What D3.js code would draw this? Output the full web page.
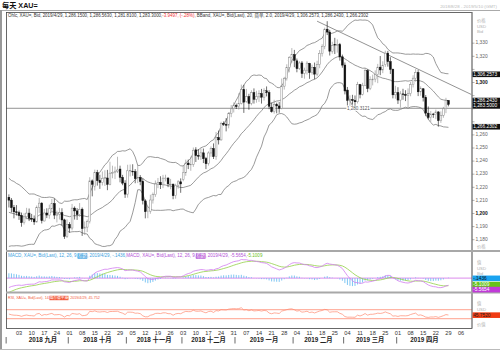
<!DOCTYPE html>
<html>
<head>
<meta charset="utf-8">
<script src="https://cdn.jsdelivr.net/npm/d3@7"></script>
<style>
body { margin: 0; background: #fff; }
svg { display: block; font-family: "Liberation Sans", "Noto Sans CJK SC", sans-serif; }
</style>
</head>
<body>
<svg id="chart" width="500" height="352"></svg>
<script>
// closes before the first visible bar (Jun 1 - Aug 27 2018), only used to warm up the indicators
let warmupCloses = [
    1294.5, 1292.0, 1294.6, 1297.4, 1298.7, 1297.8, 1299.0, 1294.0, 1298.9, 1302.6, 1278.6,
    1278.3, 1276.2, 1269.0, 1268.0, 1270.4, 1265.9, 1257.6, 1253.6, 1248.6, 1251.5,
    1241.6, 1253.1, 1252.4, 1256.8, 1255.0, 1258.6, 1254.9, 1245.4, 1246.3, 1241.3, 1240.8,
    1227.3, 1224.2, 1223.4, 1230.6, 1224.1, 1225.4, 1231.1, 1222.9, 1223.1, 1221.9, 1224.0,
    1217.6, 1209.3, 1213.9, 1208.7, 1211.2, 1212.8, 1213.2, 1211.6, 1193.9, 1194.1,
    1173.9, 1176.9, 1184.2, 1190.3, 1196.3, 1194.9, 1186.9, 1205.7, 1212.6
]

// daily bars, 2018/8/28 - 2019/4/29 (weekdays)
let opens = [
    1212.4, 1210.2, 1204.5, 1201.3,
    1200.6, 1198.5, 1193.0, 1197.5, 1200.3, 1196.2, 1195.8, 1193.6, 1204.6, 1207.9, 1194.3, 1200.4, 1198.8, 1203.6, 1207.5, 1198.6, 1199.5, 1200.6, 1195.1, 1182.6,
    1191.6, 1188.9, 1204.1, 1202.0, 1199.2, 1203.3, 1188.5, 1189.6, 1193.8, 1224.9, 1220.8, 1231.2, 1225.1, 1223.6, 1226.9, 1227.1, 1222.3, 1230.8, 1231.2, 1232.3, 1233.9, 1227.6, 1223.2,
    1214.8, 1232.6, 1232.2, 1231.9, 1226.6, 1227.4, 1224.5, 1209.6, 1201.4, 1201.8, 1210.3, 1214.4, 1222.2, 1223.8, 1222.0, 1227.0, 1227.0, 1222.4, 1222.4, 1213.6, 1221.5, 1224.2,
    1226.0, 1231.1, 1238.5, 1237.2, 1237.6, 1248.6, 1244.2, 1243.8, 1246.3, 1241.8, 1238.2, 1246.2, 1249.5, 1243.5, 1257.9, 1256.2, 1268.8, 1268.0, 1267.4, 1276.3, 1280.2,
    1282.5, 1281.6, 1284.1, 1294.6, 1285.6, 1289.2, 1284.1, 1292.2, 1287.2, 1289.0, 1291.5, 1288.8, 1293.7, 1292.3, 1281.2, 1277.8, 1283.2, 1282.1, 1280.3, 1297.2, 1302.9, 1311.5, 1319.0,
    1321.2, 1316.5, 1310.6, 1314.9, 1306.9, 1309.4, 1314.5, 1307.6, 1311.6, 1306.4, 1313.8, 1322.1, 1327.6, 1340.7, 1338.5, 1323.9, 1329.0, 1328.6, 1328.9, 1319.6,
    1313.3, 1294.2, 1286.4, 1286.9, 1286.2, 1285.3, 1298.4, 1291.0, 1297.8, 1309.0, 1295.4, 1302.0, 1302.6, 1306.1, 1311.7, 1309.6, 1313.6, 1322.4, 1315.9, 1310.1, 1290.6,
    1292.3, 1286.6, 1291.3, 1290.9, 1290.2, 1291.5, 1298.3, 1303.3, 1307.6, 1292.9, 1295.2, 1288.6, 1276.6, 1273.3, 1275.9, 1275.4, 1277.5, 1271.0, 1275.0, 1279.9, 1286.15
]
let highs = [
    1214.6, 1211.8, 1206.5, 1206.4,
    1202.2, 1200.7, 1200.2, 1204.3, 1203.8, 1199.7, 1198.5, 1206.1, 1211.8, 1208.6, 1203.5, 1204.0, 1206.8, 1211.1, 1211.4, 1202.2, 1204.3, 1204.0, 1196.0, 1195.5,
    1193.4, 1207.3, 1205.4, 1204.1, 1208.0, 1204.6, 1193.9, 1195.4, 1227.7, 1226.0, 1233.5, 1233.3, 1229.6, 1232.1, 1233.0, 1233.3, 1239.5, 1236.5, 1235.8, 1243.3, 1236.5, 1229.5, 1225.4,
    1237.2, 1237.4, 1237.6, 1233.9, 1236.9, 1229.3, 1226.7, 1210.9, 1205.3, 1214.3, 1216.0, 1225.2, 1227.1, 1228.4, 1229.5, 1229.6, 1227.8, 1226.4, 1222.8, 1222.7, 1225.5, 1226.8,
    1236.4, 1241.1, 1241.2, 1243.4, 1250.4, 1250.6, 1249.2, 1249.8, 1249.6, 1243.2, 1247.4, 1251.2, 1253.5, 1262.2, 1263.3, 1270.0, 1270.3, 1272.8, 1277.4, 1282.8, 1284.8,
    1283.9, 1291.8, 1298.4, 1298.2, 1295.1, 1291.4, 1294.1, 1295.5, 1293.7, 1294.1, 1295.1, 1295.6, 1297.0, 1294.1, 1284.6, 1286.8, 1284.6, 1285.1, 1303.0, 1304.3, 1313.9, 1320.1, 1326.3,
    1324.9, 1318.3, 1316.2, 1316.4, 1311.3, 1316.3, 1315.0, 1313.6, 1315.2, 1316.6, 1324.8, 1329.2, 1341.9, 1346.8, 1340.2, 1331.1, 1334.1, 1332.9, 1330.2, 1321.3,
    1315.3, 1296.6, 1290.2, 1290.6, 1290.1, 1300.5, 1298.9, 1299.8, 1311.0, 1310.1, 1304.7, 1306.0, 1309.3, 1314.2, 1320.2, 1316.2, 1324.3, 1324.1, 1319.3, 1310.6, 1297.5,
    1296.4, 1293.4, 1295.2, 1294.1, 1295.5, 1300.5, 1305.5, 1310.2, 1309.5, 1297.1, 1295.7, 1290.4, 1281.7, 1278.2, 1276.8, 1279.3, 1278.2, 1277.9, 1281.4, 1288.3, 1286.56
]
let lows = [
    1204.6, 1200.8, 1196.3, 1198.5,
    1195.1, 1189.9, 1191.6, 1195.6, 1194.2, 1193.6, 1191.3, 1193.0, 1200.5, 1192.4, 1193.9, 1196.5, 1196.0, 1201.8, 1195.7, 1193.2, 1195.4, 1190.8, 1180.6, 1181.3,
    1185.4, 1187.1, 1195.4, 1195.1, 1197.4, 1182.9, 1183.6, 1185.8, 1192.4, 1213.1, 1217.5, 1221.3, 1218.8, 1221.4, 1221.0, 1217.8, 1221.5, 1226.9, 1226.3, 1230.9, 1223.8, 1221.6, 1211.9,
    1212.1, 1228.3, 1228.8, 1223.1, 1223.2, 1221.6, 1206.9, 1196.3, 1196.4, 1199.8, 1207.6, 1212.7, 1219.3, 1218.7, 1219.4, 1224.5, 1220.1, 1218.5, 1210.9, 1211.3, 1218.9, 1215.8,
    1224.6, 1228.8, 1233.9, 1232.6, 1235.6, 1239.3, 1241.1, 1240.9, 1238.5, 1233.9, 1236.6, 1243.3, 1241.6, 1241.0, 1252.7, 1255.5, 1266.8, 1262.7, 1265.0, 1273.5, 1277.1,
    1279.8, 1279.3, 1283.2, 1276.8, 1284.5, 1279.2, 1282.6, 1283.9, 1284.6, 1285.2, 1283.9, 1286.2, 1289.4, 1279.6, 1277.0, 1276.2, 1276.5, 1276.9, 1279.5, 1294.6, 1301.5, 1307.8, 1315.2,
    1311.7, 1307.8, 1309.6, 1303.5, 1302.9, 1306.1, 1302.8, 1306.0, 1302.5, 1304.7, 1310.9, 1319.8, 1325.4, 1336.2, 1320.6, 1322.0, 1321.7, 1322.8, 1316.7, 1311.3,
    1290.9, 1282.4, 1281.7, 1283.2, 1280.8, 1284.0, 1287.9, 1290.1, 1297.2, 1292.6, 1294.2, 1297.8, 1300.2, 1299.5, 1305.6, 1307.1, 1311.9, 1312.1, 1306.5, 1287.9, 1287.6,
    1283.6, 1280.8, 1286.8, 1285.8, 1281.3, 1289.5, 1296.2, 1300.6, 1289.6, 1289.9, 1285.5, 1274.3, 1271.9, 1270.1, 1273.0, 1272.0, 1266.3, 1269.2, 1273.1, 1276.6, 1281.81
]
let closes = [
    1210.2, 1204.5, 1201.3, 1200.8,
    1198.5, 1193.0, 1197.5, 1200.3, 1196.4, 1195.8, 1193.6, 1204.6, 1207.9, 1194.5, 1200.4, 1198.8, 1203.6, 1207.5, 1198.8, 1199.5, 1200.6, 1195.1, 1182.6, 1191.8,
    1188.9, 1204.1, 1202.0, 1199.2, 1203.1, 1188.5, 1189.6, 1193.8, 1224.9, 1222.3, 1231.2, 1225.1, 1223.6, 1226.9, 1227.4, 1222.3, 1230.8, 1231.2, 1232.3, 1233.2, 1227.6, 1223.2, 1214.8,
    1232.6, 1232.9, 1231.9, 1226.6, 1227.4, 1224.5, 1209.8, 1201.4, 1201.8, 1210.3, 1214.4, 1222.5, 1223.8, 1222.0, 1227.0, 1227.0, 1222.6, 1222.4, 1213.6, 1221.5, 1224.2, 1222.6,
    1231.1, 1238.5, 1237.2, 1237.6, 1248.3, 1244.2, 1243.8, 1246.3, 1241.8, 1238.0, 1246.2, 1249.5, 1243.5, 1257.9, 1256.2, 1268.8, 1268.0, 1267.4, 1276.3, 1279.9, 1282.5,
    1281.6, 1284.1, 1294.6, 1285.0, 1289.2, 1284.1, 1292.2, 1287.2, 1289.3, 1291.5, 1288.8, 1293.7, 1292.3, 1281.9, 1277.8, 1283.2, 1282.1, 1280.3, 1297.5, 1302.9, 1311.5, 1319.0, 1321.2,
    1316.9, 1310.6, 1314.9, 1306.9, 1309.4, 1314.8, 1307.6, 1311.6, 1306.4, 1313.8, 1322.3, 1327.6, 1340.7, 1338.5, 1323.9, 1328.3, 1328.6, 1328.9, 1319.6, 1313.3,
    1293.6, 1286.4, 1286.9, 1286.2, 1285.3, 1298.4, 1291.0, 1297.8, 1309.0, 1295.4, 1302.3, 1302.6, 1306.1, 1311.7, 1309.6, 1313.2, 1322.4, 1315.9, 1310.1, 1290.6, 1292.3,
    1286.6, 1291.3, 1290.9, 1290.2, 1291.8, 1298.3, 1303.3, 1307.6, 1292.9, 1295.4, 1288.6, 1276.6, 1273.3, 1275.9, 1275.4, 1277.5, 1271.0, 1275.0, 1279.9, 1286.2, 1283.3
]

let priceTicks = d3.range(1180, 1331, 10)
let majorTicks = [1200, 1300]
let monthNames = ["一月", "二月", "三月", "四月", "五月", "六月", "七月", "八月", "九月", "十月", "十一月", "十二月"]

// drawn objects on the price panel
let hLineValue = 1280.3121
let trendStart = {i: 122, v: 1346.8}
let trendEnd = {i: 183, v: 1290.9}

// the boxes on the right axis
let priceBoxes = [
    {v: 1306.2573, t: "1,306.2573"},
    {v: 1286.2430, t: "1,286.2430"},
    {v: 1283.5000, t: "1,283.5000"},
    {v: 1266.2302, t: "1,266.2302"}
]
let macdBoxes = [
    {v: -0.1436, t: "-.1436", fill: "#1aa3f0", color: "#111"},
    {v: -5.5654, t: "-5.5654", fill: "#c03ad8", color: "#fff"},
    {v: -5.1009, t: "-5.1009", fill: "#66c21a", color: "#fff"}
]
let rsiBox = {v: 45.752, t: "45.7520"}

let svg = d3.select("#chart")

let left = 6
let right = 472
let mainTop = 12
let mainBottom = 250
let macdTop = 252
let macdBottom = 292
let rsiTop = 293
let rsiBottom = 328

let calendar = d3.timeDay.range(new Date(2018, 7, 28), new Date(2019, 4, 11))
    .filter(d => d.getDay() != 0 && d.getDay() != 6)
let n = Math.min(closes.length, opens.length, highs.length, lows.length)

let x = d3.scaleLinear().domain([0, calendar.length - 1]).range([8.9, 471.2])
let step = x(1) - x(0)
let y = d3.scaleLinear().domain([1200, 1300]).range([213.5, 82.5])
let yMacd = d3.scaleLinear().domain([-11, 20]).range([292, 253])
let yRsi = d3.scaleLinear().domain([30, 70]).range([318.7, 309.7])

// ---- indicators
let all = warmupCloses.concat(closes.slice(0, n))
let off = warmupCloses.length

function ema(arr, p) {
    let a = 2 / (p + 1)
    let out = [arr[0]]
    for (let k = 1; k < arr.length; k++) out.push(a * arr[k] + (1 - a) * out[k - 1])
    return out
}

let bands = []
for (let i = 0; i < n; i++) {
    let w = all.slice(off + i - 19, off + i + 1)
    let m = d3.mean(w)
    let sd = Math.sqrt(d3.mean(w, v => (v - m) * (v - m)))
    bands.push({i: i, mid: m, up: m + 2 * sd, lo: m - 2 * sd})
}

let e12 = ema(all, 12)
let e26 = ema(all, 26)
let macdAll = all.map((v, k) => e12[k] - e26[k])
let sigAll = ema(macdAll, 9)
let macd = d3.range(n).map(i => ({i: i, m: macdAll[off + i], s: sigAll[off + i]}))

let rsiAll = []
let ag = 0, al = 0
for (let k = 1; k < all.length; k++) {
    let ch = all[k] - all[k - 1]
    let g = Math.max(ch, 0), l = Math.max(-ch, 0)
    if (k <= 14) {
        ag += g / 14
        al += l / 14
    } else {
        ag = (ag * 13 + g) / 14
        al = (al * 13 + l) / 14
    }
    rsiAll[k] = k >= 14 ? 100 - 100 / (1 + ag / al) : null
}
let rsi = d3.range(n).map(i => ({i: i, r: rsiAll[off + i]}))

// ---- outer decoration
svg.append("text").attr("x", 2).attr("y", 7.5)
    .attr("font-size", 7.2).attr("font-weight", "bold").attr("fill", "#111")
    .text("每天 XAU=")
svg.append("text").attr("x", 497).attr("y", 7.5).attr("text-anchor", "end")
    .attr("font-size", 4.4).attr("fill", "#bbb")
    .text("2018/8/28 - 2019/5/10 (GMT)")
svg.append("line").attr("x1", 0).attr("x2", 500).attr("y1", 10.5).attr("y2", 10.5)
    .attr("stroke", "#aaa").attr("stroke-width", 1)
svg.append("line").attr("x1", 1).attr("x2", 1).attr("y1", 10).attr("y2", 350)
    .attr("stroke", "#999").attr("stroke-width", 2)
svg.append("line").attr("x1", 0).attr("x2", 500).attr("y1", 349.5).attr("y2", 349.5)
    .attr("stroke", "#bbb").attr("stroke-width", 1)

svg.append("defs").append("clipPath").attr("id", "clipMain")
    .append("rect").attr("x", left).attr("y", mainTop).attr("width", right - left).attr("height", mainBottom - mainTop)

// ---- price panel
let main = svg.append("g").attr("clip-path", "url(#clipMain)")

let bandLine = key => d3.line().x(d => x(d.i)).y(d => y(d[key]))(bands)
;["up", "mid", "lo"].forEach(k => {
    main.append("path").attr("d", bandLine(k))
        .attr("fill", "none").attr("stroke", "#6e6e6e").attr("stroke-width", 0.7)
})

main.append("line").attr("x1", left).attr("x2", right)
    .attr("y1", y(hLineValue)).attr("y2", y(hLineValue))
    .attr("stroke", "#777").attr("stroke-width", 0.8)

main.append("line")
    .attr("x1", x(trendStart.i)).attr("y1", y(trendStart.v))
    .attr("x2", x(trendEnd.i)).attr("y2", y(trendEnd.v))
    .attr("stroke", "#777").attr("stroke-width", 0.8)

let bars = main.selectAll("g.bar").data(d3.range(n)).enter().append("g").classed("bar", true)
bars.append("line")
    .attr("x1", i => x(i)).attr("x2", i => x(i))
    .attr("y1", i => y(highs[i])).attr("y2", i => y(lows[i]))
    .attr("stroke", i => closes[i] < opens[i] ? "#111" : "#8a8a8a")
    .attr("stroke-width", 0.6)
bars.append("rect")
    .attr("x", i => x(i) - 0.9).attr("width", 1.8)
    .attr("y", i => y(Math.max(opens[i], closes[i])))
    .attr("height", i => Math.max(0.6, Math.abs(y(opens[i]) - y(closes[i]))))
    .attr("fill", i => closes[i] < opens[i] ? "#111" : "#fff")
    .attr("stroke", i => closes[i] < opens[i] ? "#111" : "#8a8a8a")
    .attr("stroke-width", 0.5)

// label of the horizontal line
let hl = svg.append("text").attr("x", x(133) + 2).attr("y", y(hLineValue))
    .attr("dominant-baseline", "middle").attr("font-size", 4.6).attr("fill", "#555")
    .text("1,280.3121")
let hlw = hl.node().getComputedTextLength()
svg.insert("rect", () => hl.node()).attr("x", x(133) + 1.5).attr("y", y(hLineValue) - 2.5)
    .attr("width", hlw + 1).attr("height", 5).attr("fill", "#fff")

// ---- MACD panel
svg.append("line").attr("x1", left).attr("x2", right)
    .attr("y1", yMacd(0)).attr("y2", yMacd(0))
    .attr("stroke", "#e3a2f0").attr("stroke-width", 1.2)
svg.selectAll("line.hist").data(macd).enter().append("line").classed("hist", true)
    .attr("x1", d => x(d.i)).attr("x2", d => x(d.i))
    .attr("y1", yMacd(0)).attr("y2", d => yMacd(d.m - d.s))
    .attr("stroke", "#71bff2").attr("stroke-width", 0.9)
svg.append("path").attr("d", d3.line().x(d => x(d.i)).y(d => yMacd(d.s))(macd))
    .attr("fill", "none").attr("stroke", "#93d046").attr("stroke-width", 0.8)
svg.append("path").attr("d", d3.line().x(d => x(d.i)).y(d => yMacd(d.m))(macd))
    .attr("fill", "none").attr("stroke", "#d27ef0").attr("stroke-width", 0.8)

// ---- RSI panel
;[70, 30].forEach(v => {
    svg.append("line").attr("x1", left).attr("x2", right)
        .attr("y1", yRsi(v)).attr("y2", yRsi(v))
        .attr("stroke", "#ffb4a4").attr("stroke-width", 1.3)
})
svg.append("path").attr("d", d3.line().x(d => x(d.i)).y(d => yRsi(d.r))(rsi))
    .attr("fill", "none").attr("stroke", "#ff8a70").attr("stroke-width", 0.7)

// ---- frame, separators
svg.append("rect").attr("x", left + 0.5).attr("y", mainTop + 0.5)
    .attr("width", right - left - 0.5).attr("height", rsiBottom - mainTop)
    .attr("fill", "none").attr("stroke", "#444").attr("stroke-width", 0.8)
svg.append("line").attr("x1", right).attr("x2", right).attr("y1", mainTop).attr("y2", rsiBottom)
    .attr("stroke", "#888").attr("stroke-width", 0.8)
;[mainBottom + 1, macdBottom + 0.5].forEach(v => {
    svg.append("line").attr("x1", left).attr("x2", 500).attr("y1", v).attr("y2", v)
        .attr("stroke", "#a8a8a8").attr("stroke-width", 1.8)
})

// ---- boxes on the right, placed first so tick labels can keep clear of them
function valueBox(yy, t, fill, color) {
    svg.append("rect").attr("x", right + 0.5).attr("y", yy - 2.8).attr("width", 27.5).attr("height", 5.6)
        .attr("fill", fill)
    svg.append("text").attr("x", right + 1.2).attr("y", yy + 0.2).attr("dominant-baseline", "middle")
        .attr("font-size", 4.8).attr("fill", color).text(t)
}
let boxYs = []
let lastY = -99
priceBoxes.forEach(b => {
    let yy = Math.max(y(b.v), lastY + 5.4)
    valueBox(yy, b.t, "#111", "#fff")
    boxYs.push(yy)
    lastY = yy
})
lastY = -99
macdBoxes.slice().sort((a, b) => b.v - a.v).forEach(b => {
    let yy = Math.max(yMacd(b.v), lastY + 5)
    valueBox(yy, b.t, b.fill, b.color)
    lastY = yy
})
valueBox(yRsi(rsiBox.v), rsiBox.t, "#f03c14", "#222")

// ---- right price axis
let ax = svg.append("g")
priceTicks.forEach(v => {
    let major = majorTicks.includes(v)
    ax.append("line").attr("x1", right).attr("x2", right + 2.5).attr("y1", y(v)).attr("y2", y(v))
        .attr("stroke", "#666").attr("stroke-width", 0.5)
    if (boxYs.some(b => Math.abs(b - y(v)) < 5)) return
    ax.append("text").attr("x", right + 3.5).attr("y", y(v)).attr("dominant-baseline", "middle")
        .attr("font-size", 4.9).attr("font-weight", major ? "bold" : "normal")
        .attr("fill", major ? "#111" : "#666").text(d3.format(",")(v))
})

function sideText(t, yy, col) {
    svg.append("text").attr("x", 477).attr("y", yy).attr("dominant-baseline", "middle")
        .attr("font-size", 4.3).attr("fill", col || "#b0b0b0").text(t)
}
sideText("价格", 21)
sideText("USD", 26.5)
sideText("Bid", 32)
sideText("价格", 247)
sideText("值", 263)
sideText("USD", 268.5)
sideText("Bid", 274)
sideText("值", 304)
sideText("USD", 309.5)
sideText("价值", 325)

// ---- legends
function legend(x0, y0, segs, targetW) {
    let g = svg.append("g")
    let texts = segs.map(s => g.append("text").attr("font-size", 5).text(s.t))
    let total = d3.sum(texts, t => t.node().getComputedTextLength())
    let fs = 5 * targetW / total
    let cx = x0
    segs.forEach((s, k) => {
        let t = texts[k].attr("font-size", fs).attr("x", cx).attr("y", y0)
            .attr("dominant-baseline", "middle").attr("fill", s.bg ? "#fff" : s.c)
        let w = t.node().getComputedTextLength()
        if (s.bg) {
            g.insert("rect", () => t.node()).attr("x", cx - 0.3).attr("y", y0 - fs * 0.6)
                .attr("width", w + 0.6).attr("height", fs * 1.2).attr("fill", s.bg)
        }
        cx += w
    })
}

legend(8, 15.5, [
    {t: "Ohlc, XAU=, Bid, 2019/4/29, 1,286.1500, 1,286.5630, 1,281.8100, 1,283.3000, ", c: "#333"},
    {t: "-3.9497, (-.28%)", c: "#f03232"},
    {t: ", BBand, XAU=, Bid(Last), 20, 简单, 2.0, 2019/4/29, 1,306.2573, 1,286.2430, 1,266.2302", c: "#333"}
], 362)

legend(8, 256, [
    {t: "MACD, XAU=, Bid(Last), 12, 26, 9, ", c: "#3d9fe0"},
    {t: "指数", bg: "#3d9fe0"},
    {t: ", 2019/4/29, -.1436, ", c: "#3d9fe0"},
    {t: "MACD, XAU=, Bid(Last), 12, 26, 9, ", c: "#b24fd6"},
    {t: "指数", bg: "#b24fd6"},
    {t: ", 2019/4/29, -5.5654, ", c: "#b24fd6"},
    {t: "-5.1009", c: "#6cbf22"}
], 255)

legend(8, 298, [
    {t: "RSI, XAU=, Bid(Last), 14, ", c: "#f25a3c"},
    {t: "威尔德平滑", bg: "#f25a3c"},
    {t: ", 2019/4/29, 45.752", c: "#f25a3c"}
], 92)

// ---- date axis
let mondays = calendar.map((d, i) => ({d: d, i: i})).filter(o => o.d.getDay() == 1)
svg.selectAll("text.day").data(mondays).enter().append("text").classed("day", true)
    .attr("x", o => x(o.i)).attr("y", 333.5).attr("text-anchor", "middle")
    .attr("dominant-baseline", "middle").attr("font-size", 5.6).attr("fill", "#333")
    .text(o => d3.timeFormat("%d")(o.d))

let months = d3.groups(calendar.map((d, i) => ({d: d, i: i})).slice(0, n + 1), o => o.d.getFullYear() * 100 + o.d.getMonth())
let seps = [x(0) - step / 2 - 1.5]
months.forEach(([key, days]) => {
    let first = days[0].i
    let last = days[days.length - 1].i
    if (first > 0 && days[0].d.getMonth() != 8) seps.push(x(first) - step / 2)
    if (days.length < 10) return
    svg.append("text").attr("x", (x(first) + x(last)) / 2).attr("y", 340.5)
        .attr("text-anchor", "middle").attr("dominant-baseline", "middle")
        .attr("font-size", 6.3).attr("font-weight", "bold").attr("fill", "#222")
        .text(days[0].d.getFullYear() + " " + monthNames[days[0].d.getMonth()])
})
seps.forEach(sx => {
    svg.append("line").attr("x1", sx).attr("x2", sx).attr("y1", 337).attr("y2", 343.5)
        .attr("stroke", "#444").attr("stroke-width", 0.8)
})
</script>
</body>
</html>
